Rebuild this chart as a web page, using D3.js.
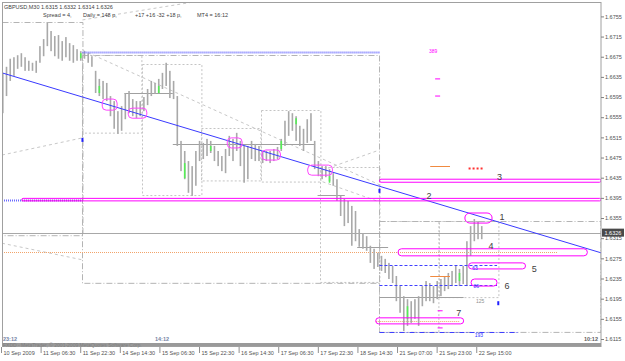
<!DOCTYPE html>
<html>
<head>
<meta charset="utf-8">
<script src="https://cdn.jsdelivr.net/npm/d3@7"></script>
<style>
body { margin: 0; background: #fff; }
svg text { font-family: "Liberation Sans", Arial, sans-serif; }
</style>
</head>
<body>
<div id="chart"></div>
<script>
// GBPUSD M30, one column = 3 bars (high / low of the group)
const highs = [1.6643,1.6655,1.6671,1.6674,1.6678,1.6682,1.6674,1.6667,1.6663,1.6667,
    1.6696,1.6710,1.6742,1.6726,1.6716,1.6718,1.6706,1.6714,1.6702,1.6698,
    1.6690,1.6686,1.6686,1.6682,1.6676,1.6647,1.6631,1.6627,1.6623,1.6597,
    1.6587,1.6567,1.6577,1.6603,1.6607,1.6591,1.6587,1.6587,1.6595,1.6611,
    1.6627,1.6623,1.6631,1.6643,1.6663,1.6647,1.6627,1.6597,1.6508,1.6488,
    1.6468,1.6458,1.6488,1.6508,1.6504,1.6512,1.6508,1.6498,1.6488,1.6478,
    1.6492,1.6518,1.6512,1.6524,1.6508,1.6498,1.6498,1.6508,1.6502,1.6498,
    1.6488,1.6488,1.6488,1.6492,1.6496,1.6512,1.6548,1.6567,1.6563,1.6557,
    1.6538,1.6532,1.6551,1.6563,1.6508,1.6468,1.6458,1.6458,1.6452,1.6444,
    1.6432,1.6399,1.6393,1.6389,1.6379,1.6369,1.6333,1.6325,1.6319,1.6300,
    1.6294,1.6286,1.6280,1.6274,1.6266,1.6260,1.6240,1.6220,1.6200,1.6194,
    1.6190,1.6194,1.6200,1.6220,1.6230,1.6226,1.6220,1.6230,1.6234,1.6240,
    1.6246,1.6250,1.6260,1.6254,1.6260,1.6309,1.6339,1.6353,1.6349,1.6339]
const lows = [1.6563,1.6597,1.6627,1.6637,1.6651,1.6655,1.6647,1.6647,1.6647,1.6643,
    1.6663,1.6676,1.6696,1.6686,1.6676,1.6671,1.6667,1.6674,1.6667,1.6663,
    1.6667,1.6667,1.6671,1.6663,1.6655,1.6603,1.6597,1.6591,1.6587,1.6557,
    1.6532,1.6522,1.6528,1.6551,1.6563,1.6557,1.6553,1.6557,1.6567,1.6579,
    1.6597,1.6601,1.6603,1.6611,1.6617,1.6593,1.6591,1.6498,1.6448,1.6432,
    1.6405,1.6399,1.6419,1.6468,1.6472,1.6478,1.6484,1.6468,1.6458,1.6448,
    1.6444,1.6478,1.6468,1.6488,1.6458,1.6425,1.6432,1.6472,1.6468,1.6468,
    1.6464,1.6468,1.6464,1.6468,1.6472,1.6488,1.6498,1.6518,1.6528,1.6508,
    1.6498,1.6488,1.6504,1.6508,1.6452,1.6438,1.6432,1.6436,1.6428,1.6419,
    1.6389,1.6359,1.6339,1.6345,1.6300,1.6309,1.6298,1.6294,1.6290,1.6266,
    1.6254,1.6258,1.6250,1.6246,1.6234,1.6226,1.6190,1.6167,1.6131,1.6141,
    1.6147,1.6155,1.6141,1.6180,1.6190,1.6190,1.6186,1.6194,1.6200,1.6210,
    1.6214,1.6220,1.6226,1.6220,1.6224,1.6220,1.6280,1.6309,1.6313,1.6313]
const BARS_PER_COLUMN = 3

// bars painted green by the indicator
const greenBars = [
    { bar: 63, hi: 1.6682, lo: 1.6672 }, { bar: 78, hi: 1.6617, lo: 1.6603 },
    { bar: 126, hi: 1.6617, lo: 1.6603 }, { bar: 147, hi: 1.6464, lo: 1.6434 },
    { bar: 168, hi: 1.6498, lo: 1.6488 }, { bar: 225, hi: 1.6508, lo: 1.6492 },
    { bar: 237, hi: 1.6553, lo: 1.6541 }, { bar: 264, hi: 1.6438, lo: 1.6425 },
    { bar: 327, hi: 1.6180, lo: 1.6155 }, { bar: 369, hi: 1.6246, lo: 1.6230 }
]

const priceTicks = [1.6755,1.6715,1.6675,1.6635,1.6595,1.6555,1.6515,1.6475,1.6435,
    1.6395,1.6355,1.6315,1.6275,1.6235,1.6195,1.6155,1.6115]
const timeBars = [0,32,64,96,128,160,192,224,256,288,320,352,384]
const timeLabels = ["10 Sep 2009","11 Sep 06:30","11 Sep 22:30","14 Sep 14:30","15 Sep 06:30",
    "15 Sep 22:30","16 Sep 14:30","17 Sep 06:30","17 Sep 22:30","18 Sep 14:30",
    "21 Sep 07:00","21 Sep 23:00","22 Sep 15:00"]
const lastPrice = 1.6326

// trend line anchors
const trendBars = [0, 484]
const trendPrices = [1.6643, 1.6286]

// weekly and daily range boxes
const weekBoxes = [
    { from: 0, to: 65, hi: 1.6744, lo: 1.6321 },
    { from: 65, to: 305, hi: 1.6678, lo: 1.6226 },
    { from: 305, to: 484, hi: 1.6349, lo: 1.6129 }
]
const dayBoxes = [
    { from: 65, to: 113, hi: 1.6678, lo: 1.6524 },
    { from: 113, to: 161, hi: 1.6661, lo: 1.6401 },
    { from: 161, to: 209, hi: 1.6534, lo: 1.6430 },
    { from: 209, to: 257, hi: 1.6569, lo: 1.6427 },
    { from: 257, to: 305, hi: 1.6456, lo: 1.6228 },
    { from: 305, to: 353, hi: 1.6349, lo: 1.6129 },
    { from: 353, to: 401, hi: 1.6349, lo: 1.6198 }
]
const fanLines = [
    { b1: 65, p1: 1.6748, b2: 166, p2: 1.6788 },
    { b1: 0, p1: 1.6480, b2: 65, p2: 1.6514 },
    { b1: 0, p1: 1.6305, b2: 65, p2: 1.6272 },
    { b1: 65, p1: 1.6688, b2: 305, p2: 1.6421 },
    { b1: 259, p1: 1.6450, b2: 305, p2: 1.6490 },
    { b1: 259, p1: 1.6427, b2: 305, p2: 1.6387 }
]
const pivotLines = [
    { from: 99, to: 138, p: 1.6603 }, { from: 138, to: 253, p: 1.6502 },
    { from: 255, to: 277, p: 1.6401 }, { from: 287, to: 312, p: 1.6298 },
    { from: 305, to: 373, p: 1.6198 }
]

// magenta zones with their numbers
const zoneNames = ["2","3","1","4","5","6","7"]
const zones = [
    { from: 16, to: 484, hi: 1.6394, lo: 1.6389 },
    { from: 305, to: 484, hi: 1.6432, lo: 1.6426 },
    { from: 374, to: 396, hi: 1.6365, lo: 1.6345 },
    { from: 320, to: 473, hi: 1.6294, lo: 1.6280 },
    { from: 377, to: 423, hi: 1.6266, lo: 1.6254 },
    { from: 379, to: 400, hi: 1.6234, lo: 1.6220 },
    { from: 302, to: 373, hi: 1.6157, lo: 1.6145 }
]
const zoneLabelBars = [343, 400, 402, 393, 428, 406, 367]
const zoneLabelPrices = [1.6399, 1.6436, 1.6357, 1.6300, 1.6254, 1.6220, 1.6167]

// touches of the trend line
const ovals = [
    { from: 81, to: 93, hi: 1.6591, lo: 1.6569 },
    { from: 102, to: 117, hi: 1.6573, lo: 1.6553 },
    { from: 182, to: 194, hi: 1.6514, lo: 1.6494 },
    { from: 210, to: 225, hi: 1.6490, lo: 1.6470 },
    { from: 247, to: 267, hi: 1.6460, lo: 1.6440 }
]
const magentaTicks = [
    { bar: 352, p: 1.6631 }, { bar: 352, p: 1.6597 },
    { bar: 354, p: 1.6171 }, { bar: 354, p: 1.6137 }
]

const blueDotted = [{ from: 65, to: 305, p: 1.6684 }, { from: 0, to: 16, p: 1.6391 }]
const purpleDotted = [{ from: 16, to: 65, p: 1.6391 }]
const blueDashed = [{ from: 305, to: 400, p: 1.6262 }, { from: 305, to: 400, p: 1.6222 }]
const blueDashDot = [{ from: 305, to: 418, p: 1.6129 }]
const orangeDotted = [{ from: 0, to: 449, p: 1.6288 }, { from: 302, to: 370, p: 1.6151 }]
const orangeSolid = [{ from: 346, to: 362, p: 1.6458 }, { from: 346, to: 362, p: 1.6240 }]
const redDotted = [{ from: 377, to: 389, p: 1.6454 }]
const blueMarks = [{ bar: 65, p: 1.6510 }, { bar: 305, p: 1.6409 }, { bar: 401, p: 1.6186 }]

const levelTexts = ["389", "63", "86", "125", "193"]
const levelBars = [345, 380, 381, 383, 382]
const levelPrices = [1.6686, 1.6256, 1.6220, 1.6190, 1.6123]
const levelColors = ["#ff00ff", "#3030ff", "#3030ff", "#909090", "#3030ff"]

draw()

function draw() {
    const W = 625, H = 361
    const svg = d3.select("#chart").append("svg").attr("width", W).attr("height", H)
    svg.append("rect").attr("width", W).attr("height", H).attr("fill", "#fff")

    const x = d3.scaleLinear().domain([0, 484]).range([2, 601])
    const y = d3.scaleLinear().domain([1.6115, 1.6755]).range([339, 16.4])

    svg.append("clipPath").attr("id", "plot")
        .append("rect").attr("x", 2).attr("y", 2).attr("width", 599).attr("height", 341)
    const g = svg.append("g").attr("clip-path", "url(#plot)")

    // horizontal segment helper
    const seg = (data, color, dash, width) => g.append("g").selectAll("line").data(data).join("line")
        .attr("x1", d => x(d.from)).attr("x2", d => x(d.to))
        .attr("y1", d => Math.round(y(d.p)) + 0.5).attr("y2", d => Math.round(y(d.p)) + 0.5)
        .attr("stroke", color).attr("stroke-width", width || 1)
        .attr("stroke-dasharray", dash)

    // boxes
    const box = (data, color, dash) => g.append("g").selectAll("rect").data(data).join("rect")
        .attr("x", d => Math.round(x(d.from)) + 0.5).attr("y", d => Math.round(y(d.hi)) + 0.5)
        .attr("width", d => x(d.to) - x(d.from)).attr("height", d => y(d.lo) - y(d.hi))
        .attr("fill", "none").attr("stroke", color).attr("stroke-dasharray", dash)
    box(dayBoxes, "#c4c4c4", "2,2")
    box(weekBoxes, "#b4b4b4", "6,2,1,2")

    g.append("g").selectAll("line").data(fanLines).join("line")
        .attr("x1", d => x(d.b1)).attr("y1", d => y(d.p1))
        .attr("x2", d => x(d.b2)).attr("y2", d => y(d.p2))
        .attr("stroke", "#c8c8c8").attr("stroke-dasharray", "3,3")

    seg(pivotLines, "#a0a0a0")
    seg(orangeDotted, "#f2a46a", "1,1")

    // current price line
    seg([{ from: 0, to: 484, p: lastPrice }], "#a8a8a8")

    // price bars
    g.append("g").selectAll("rect").data(highs).join("rect")
        .attr("x", (d, i) => x(i * BARS_PER_COLUMN))
        .attr("y", d => y(d))
        .attr("width", 1.6)
        .attr("height", (d, i) => y(lows[i]) - y(d))
        .attr("fill", "#a9a9a9")
    g.append("g").selectAll("rect").data(greenBars).join("rect")
        .attr("x", d => x(d.bar)).attr("y", d => y(d.hi))
        .attr("width", 1.6).attr("height", d => y(d.lo) - y(d.hi))
        .attr("fill", "#55ee55")

    seg(blueDotted, "#6a6aff", "1,1", 2)
    seg(purpleDotted, "#7a20d0", "1,1", 2)
    seg(blueDashed, "#4040ff", "3,2")
    seg(blueDashDot, "#4040ff", "5,2,1,2")
    seg(orangeSolid, "#f08a40", null, 1)
    seg(redDotted, "#ff3030", "2,2", 2)

    // trend line
    g.append("line")
        .attr("x1", x(trendBars[0])).attr("y1", y(trendPrices[0]))
        .attr("x2", x(trendBars[1])).attr("y2", y(trendPrices[1]))
        .attr("stroke", "#3a3aff").attr("stroke-width", 1)

    // magenta zones
    g.append("g").selectAll("rect").data(zones).join("rect")
        .attr("x", d => x(d.from)).attr("y", d => y(d.hi))
        .attr("width", d => x(d.to) - x(d.from)).attr("height", d => y(d.lo) - y(d.hi))
        .attr("rx", d => (y(d.lo) - y(d.hi)) / 2)
        .attr("fill", "none").attr("stroke", "#ff00ff")
    g.append("g").selectAll("rect").data(ovals).join("rect")
        .attr("x", d => x(d.from)).attr("y", d => y(d.hi))
        .attr("width", d => x(d.to) - x(d.from)).attr("height", d => y(d.lo) - y(d.hi))
        .attr("rx", 4)
        .attr("fill", "none").attr("stroke", "#ff44ff")
    g.append("g").selectAll("line").data(magentaTicks).join("line")
        .attr("x1", d => x(d.bar) - 2.5).attr("x2", d => x(d.bar) + 2.5)
        .attr("y1", d => y(d.p)).attr("y2", d => y(d.p))
        .attr("stroke", "#ff00ff")
    g.append("g").selectAll("rect").data(blueMarks).join("rect")
        .attr("x", d => x(d.bar) - 1).attr("y", d => y(d.p) - 2)
        .attr("width", 2).attr("height", 4).attr("fill", "#2020ff")

    g.append("g").selectAll("text").data(zoneNames).join("text")
        .attr("x", (d, i) => x(zoneLabelBars[i])).attr("y", (d, i) => y(zoneLabelPrices[i]))
        .attr("dy", "0.35em").attr("font-size", 9).attr("fill", "#404040")
        .text(d => d)
    g.append("g").selectAll("text").data(levelTexts).join("text")
        .attr("x", (d, i) => x(levelBars[i])).attr("y", (d, i) => y(levelPrices[i]))
        .attr("dy", "0.35em").attr("font-size", 5).attr("fill", (d, i) => levelColors[i])
        .text(d => d)

    // frame
    svg.append("rect").attr("x", 2.5).attr("y", 2.5).attr("width", 598.5).attr("height", 344)
        .attr("fill", "none").attr("stroke", "#a0a0a0")
    svg.append("rect").attr("x", 2).attr("y", 343).attr("width", 599).attr("height", 3).attr("fill", "#9a9a9a")

    // price axis
    const yAxis = svg.append("g").attr("transform", "translate(601,0)")
        .call(d3.axisRight(y).tickValues(priceTicks).tickFormat(d3.format(".4f")).tickSize(3).tickPadding(1))
    yAxis.select(".domain").remove()
    yAxis.selectAll("line").attr("stroke", "#808080")
    yAxis.selectAll("text").attr("font-size", 5.5).attr("fill", "#505050").attr("font-family", null)

    const lp = svg.append("g").attr("transform", `translate(602,${y(lastPrice)})`)
    lp.append("rect").attr("x", 0).attr("y", -4).attr("width", 22).attr("height", 8).attr("fill", "#4a4a4a")
    lp.append("text").attr("x", 2.5).attr("dy", "0.35em").attr("font-size", 5.5).attr("fill", "#fff")
        .text(d3.format(".4f")(lastPrice))

    // time axis
    const xAxis = svg.append("g").attr("transform", "translate(0,347)")
        .call(d3.axisBottom(x).tickValues(timeBars).tickFormat((d, i) => timeLabels[i]).tickSize(6))
    xAxis.select(".domain").remove()
    xAxis.selectAll("line").attr("stroke", "#909090").attr("transform", "translate(-1,0)")
    xAxis.selectAll("text").attr("text-anchor", "start").attr("x", 1).attr("y", 4)
        .attr("font-size", 5.5).attr("fill", "#505050").attr("font-family", null)

    // header and footer texts
    const t = (tx, ty, s, opts) => {
        const el = svg.append("text").attr("x", tx).attr("y", ty).attr("font-size", 5.5)
            .attr("fill", "#404040").text(s)
        if (opts) Object.entries(opts).forEach(([k, v]) => el.attr(k, v))
        return el
    }
    t(4, 9, "GBPUSD,M30  1.6315 1.6332 1.6314 1.6326")
    t(43, 17, "Spread = 4,")
    t(83, 17, "Daily   = 148 p,")
    t(135, 17, "+17 +16 -32 +18 p,")
    t(197, 17, "MT4   = 16:12")
    t(3, 341, "23:12", { "font-weight": "bold", fill: "#7586a6" })
    t(155, 341, "14:12", { "font-weight": "bold", fill: "#7586a6" })
    t(598, 341, "10:12", { "font-weight": "bold", fill: "#606060", "text-anchor": "end" })
    t(3, 347, "FXDD - MetaTrader, \u00a9 2001-2009 MetaQuotes Software Corp.", { fill: "#808080", "font-size": 5 })
}
</script>
</body>
</html>
